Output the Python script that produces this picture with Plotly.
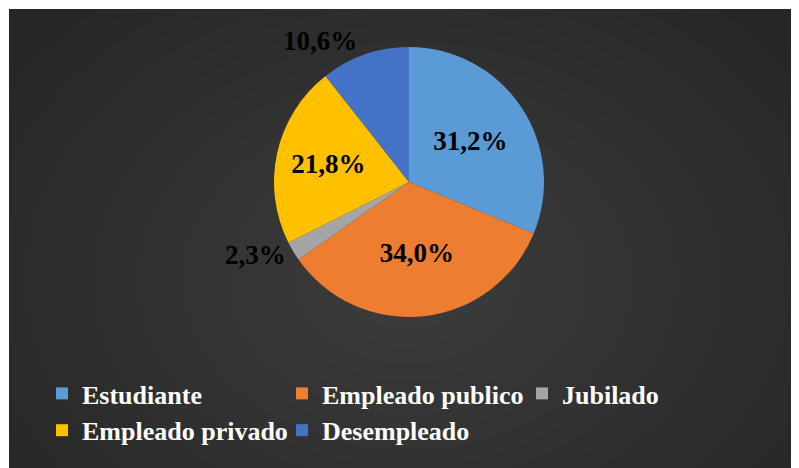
import plotly.graph_objects as go

categories = ["Estudiante", "Empleado publico", "Jubilado", "Empleado privado", "Desempleado"]
values = [31.2, 34.0, 2.3, 21.8, 10.6]
colors = ["#5B9BD5", "#ED7D31", "#A5A5A5", "#FFC000", "#4472C4"]
label_text = [f"{v:.1f}%".replace(".", ",") for v in values]
positions = ["inside" if v > 15 else "outside" for v in values]

W, H = 799, 468
OFF = 8  # page body margin

R = 135
CX, CY = 409 - OFF, 182 - OFF  # pie centre in figure px (from top)

fig = go.Figure()
fig.add_trace(go.Pie(
    labels=categories,
    values=values,
    sort=False,
    direction="clockwise",
    rotation=0,
    marker=dict(colors=colors, line=dict(width=0)),
    text=label_text,
    textinfo="text",
    textposition=positions,
    insidetextorientation="horizontal",
    textfont=dict(family="Liberation Serif", size=27, color="black", weight="bold"),
    outsidetextfont=dict(family="Liberation Serif", size=27, color="black", weight="bold"),
    domain=dict(x=[(CX - R) / W, (CX + R) / W], y=[(H - CY - R) / H, (H - CY + R) / H]),
    hoverinfo="label+percent",
))

shapes = [dict(type="rect", xref="paper", yref="paper", x0=1 / W, x1=1.0, y0=0, y1=1 - 1 / H,
               fillcolor="#262626", line=dict(width=0), layer="below")]
n = 22
for i in range(n):
    f = 1 - i / n
    rx = 0.62 * f
    ry = 0.80 * f
    cx, cy = 0.5, 0.42
    shapes.append(dict(type="circle", xref="paper", yref="paper",
                       x0=cx - rx, x1=cx + rx, y0=cy - ry, y1=cy + ry,
                       fillcolor="rgba(255,255,255,0.0088)", line=dict(width=0), layer="below"))

fig.update_layout(
    width=W, height=H,
    margin=dict(l=0, r=0, t=0, b=0),
    paper_bgcolor="white",
    plot_bgcolor="rgba(0,0,0,0)",
    shapes=shapes,
    showlegend=True,
    legend=dict(
        orientation="h",
        x=34 / W, xanchor="left",
        y=1 - 362 / H, yanchor="top",
        font=dict(family="Liberation Serif", size=26, color="white", weight="bold"),
        bgcolor="rgba(0,0,0,0)",
        entrywidth=195,
        traceorder="normal",
        itemwidth=30,
    ),
)

fig.write_html("out.html")
